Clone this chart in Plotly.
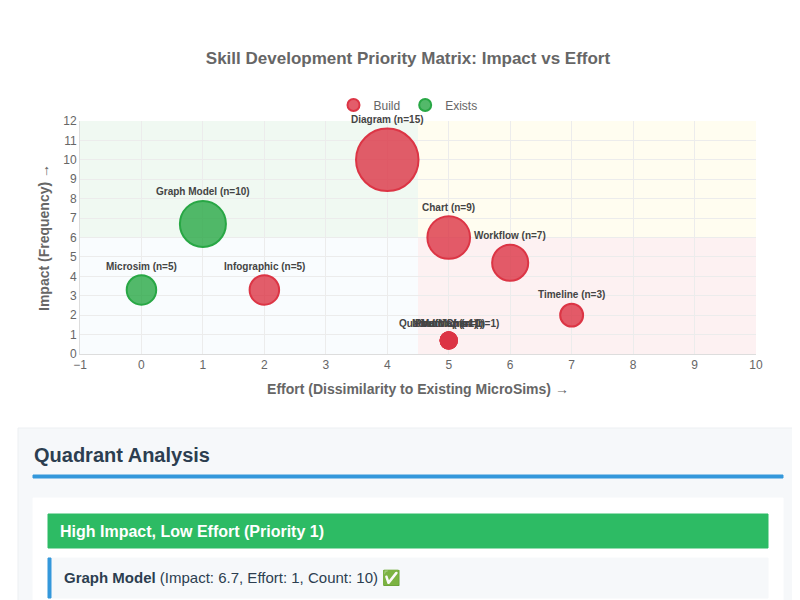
import plotly.graph_objects as go

names = ["Diagram", "Graph Model", "Chart", "Workflow", "Microsim", "Infographic", "Timeline",
         "Portfolio", "Mind Map", "Quadrant Chart", "Matrix"]
effort = [4, 1, 5, 6, 0, 2, 7, 5, 5, 5, 5]
impact = [10, 6.7, 6, 4.7, 3.3, 3.3, 2, 0.7, 0.7, 0.7, 0.7]
count = [15, 10, 9, 7, 5, 5, 3, 1, 1, 1, 1]
status = ["Build", "Exists", "Build", "Build", "Exists", "Build", "Build", "Build", "Build", "Build", "Build"]

colors = {"Build": ("rgba(220,53,69,0.8)", "#dc3545"), "Exists": ("rgba(40,167,69,0.8)", "#28a745")}

W, H = 800, 600
def px(x): return x / W
def py(y): return 1 - y / H

fig = go.Figure()
for st in ["Build", "Exists"]:
    idx = [i for i, s in enumerate(status) if s == st]
    fig.add_trace(go.Scatter(
        x=[effort[i] for i in idx], y=[impact[i] for i in idx], mode="markers", name=st,
        marker=dict(size=[2 * (6.5 + 1.65 * count[i]) for i in idx], sizemode="diameter",
                    color=colors[st][0], line=dict(color=colors[st][1], width=2), opacity=1),
    ))
for i in range(len(names)):
    r = 6.5 + 1.65 * count[i]
    fig.add_annotation(x=effort[i], y=impact[i], text="<b>%s (n=%d)</b>" % (names[i], count[i]),
                       showarrow=False, yshift=r + 9, font=dict(size=10, color="#444"))

fig.add_shape(type="rect", x0=-1, x1=4.5, y0=6, y1=12, fillcolor="rgba(40,167,69,0.07)", line_width=0, layer="below")
fig.add_shape(type="rect", x0=4.5, x1=10, y0=6, y1=12, fillcolor="rgba(255,235,59,0.08)", line_width=0, layer="below")
fig.add_shape(type="rect", x0=-1, x1=4.5, y0=0, y1=6, fillcolor="rgba(52,152,219,0.03)", line_width=0, layer="below")
fig.add_shape(type="rect", x0=4.5, x1=10, y0=0, y1=6, fillcolor="rgba(220,53,69,0.07)", line_width=0, layer="below")

pshapes = [
    dict(x0=10, x1=790, y0=420, y1=600, fill="#f6f8fa", line="#eceff2"),
    dict(x0=25, x1=775, y0=490, y1=600, fill="#ffffff", line="#ffffff"),
    dict(x0=40, x1=760, y0=506, y1=540, fill="#2dbb64", line="#2dbb64"),
    dict(x0=40, x1=760, y0=550, y1=590, fill="#f6f8fa", line="#f6f8fa"),
    dict(x0=40, x1=43, y0=550, y1=590, fill="#3498db", line="#3498db"),
    dict(x0=40, x1=43, y0=596, y1=600, fill="#3498db", line="#3498db"),
    dict(x0=25, x1=775, y0=467, y1=470, fill="#3498db", line="#3498db"),
]
for s in pshapes:
    fig.add_shape(type="rect", xref="paper", yref="paper", x0=px(s["x0"]), x1=px(s["x1"]),
                  y0=py(s["y1"]), y1=py(s["y0"]), fillcolor=s["fill"], line=dict(color=s["line"], width=1))
fig.add_annotation(xref="paper", yref="paper", x=px(24), y=py(447), xanchor="left", yanchor="middle", showarrow=False,
                   text="<b>Quadrant Analysis</b>", font=dict(size=20, color="#2c3e50"))
fig.add_annotation(xref="paper", yref="paper", x=px(50), y=py(523), xanchor="left", yanchor="middle", showarrow=False,
                   text="<b>High Impact, Low Effort (Priority 1)</b>", font=dict(size=16, color="white"))
fig.add_annotation(xref="paper", yref="paper", x=px(54), y=py(570), xanchor="left", yanchor="middle", showarrow=False,
                   text="<b>Graph Model</b> (Impact: 6.7, Effort: 1, Count: 10) ✅", font=dict(size=15, color="#2c3e50"))

fig.update_layout(
    width=W, height=H, margin=dict(l=0, r=0, t=0, b=0), plot_bgcolor="white", paper_bgcolor="white",
    font=dict(family="Liberation Sans, Arial, sans-serif", color="#666"),
    title=dict(text="<b>Skill Development Priority Matrix: Impact vs Effort</b>", x=0.5, y=py(50),
               xanchor="center", yanchor="middle", font=dict(size=17, color="#666"), automargin=False),
    legend=dict(orientation="h", x=0.5, xanchor="center", y=py(97), yanchor="middle",
                font=dict(size=12, color="#666"), itemsizing="constant", itemwidth=30),
    xaxis=dict(domain=[px(72), px(748)], range=[-1, 10], dtick=1, gridcolor="#ececec", zeroline=False,
               showline=True, linecolor="#ddd", ticks="", automargin=False, tickfont=dict(size=12),
               title=dict(text="<b>Effort (Dissimilarity to Existing MicroSims) →</b>", font=dict(size=14), standoff=12)),
    yaxis=dict(domain=[py(346), py(113)], range=[0, 12], dtick=1, gridcolor="#ececec", zeroline=False,
               showline=True, linecolor="#ddd", automargin=False, tickfont=dict(size=12),
               title=dict(text="<b>Impact (Frequency) →</b>", font=dict(size=14), standoff=10)),
)
fig.write_html("out.html")
